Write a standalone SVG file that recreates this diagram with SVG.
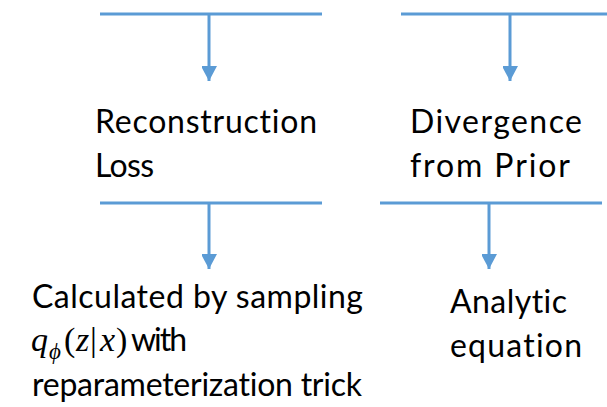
<svg xmlns="http://www.w3.org/2000/svg" width="607" height="407" viewBox="0 0 607 407">
<defs>
<marker id="ah" markerUnits="userSpaceOnUse" markerWidth="16" markerHeight="15" refX="15" refY="8" orient="auto">
<path d="M0,0 L15,8 L0,16 Z" fill="#5B9BD5"/>
</marker>
<style>
.ln{stroke:#5B9BD5;stroke-width:3;fill:none}
.t{font-family:Lato,"Liberation Sans",Arial,sans-serif;font-size:32px;fill:#000;font-variant-ligatures:none}
.m{font-family:"Liberation Serif","Times New Roman",serif;font-style:italic;font-size:34px;fill:#000}
.n{font-style:normal}
</style>
</defs>
<rect width="607" height="407" fill="#fff"/>
<g id="connectors">
<line class="ln" x1="100" y1="14" x2="322" y2="14"/>
<line class="ln" x1="401" y1="14" x2="607" y2="14"/>
<line class="ln" x1="209" y1="14" x2="209" y2="81" marker-end="url(#ah)"/>
<line class="ln" x1="510" y1="14" x2="510" y2="81" marker-end="url(#ah)"/>
<line class="ln" x1="100" y1="203" x2="322" y2="203"/>
<line class="ln" x1="380" y1="203" x2="602" y2="203"/>
<line class="ln" x1="209" y1="203" x2="209" y2="269" marker-end="url(#ah)"/>
<line class="ln" x1="489" y1="203" x2="489" y2="269" marker-end="url(#ah)"/>
</g>
<g id="reconstruction-loss">
<text class="t" x="95" y="133" textLength="222" lengthAdjust="spacing">Reconstruction</text>
<text class="t" x="95" y="177" textLength="59" lengthAdjust="spacing">Loss</text>
</g>
<g id="divergence-from-prior">
<text class="t" x="410" y="133" textLength="172" lengthAdjust="spacing">Divergence</text>
<text class="t" x="410" y="177" textLength="160" lengthAdjust="spacing">from Prior</text>
</g>
<g id="sampling">
<text class="t" x="32" y="308" textLength="331" lengthAdjust="spacing">Calculated by sampling</text>
<text class="m" y="351"><tspan x="31">q</tspan><tspan x="49" dy="8" font-size="23">ϕ</tspan><tspan x="64" dy="-8" class="n">(</tspan><tspan x="76">z</tspan><tspan x="90" class="n">|</tspan><tspan x="100">x</tspan><tspan x="116" class="n">)</tspan></text>
<text class="t" x="131" y="351" textLength="56" lengthAdjust="spacing">with</text>
<text class="t" x="32" y="396" textLength="330" lengthAdjust="spacing">reparameterization trick</text>
</g>
<g id="analytic">
<text class="t" x="450" y="313" textLength="117" lengthAdjust="spacing">Analytic</text>
<text class="t" x="450" y="357" textLength="132" lengthAdjust="spacing">equation</text>
</g>
</svg>
